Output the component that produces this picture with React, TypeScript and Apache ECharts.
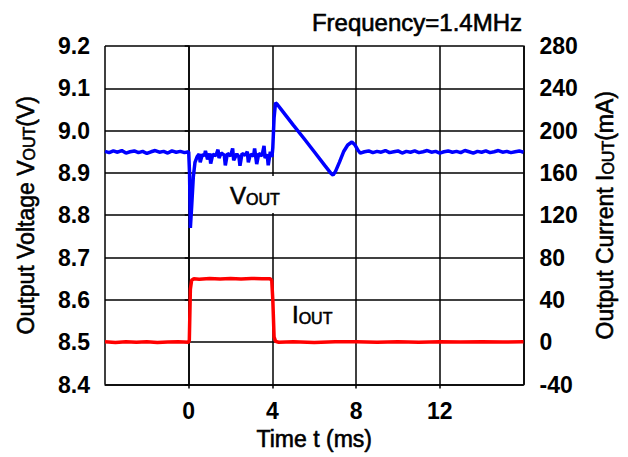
import React, { useEffect, useRef } from "react";
import * as echarts from "echarts";

const FONT = '"Liberation Sans", Arial, Helvetica, sans-serif';

// Time axis (ms)
const timeMin = -4;
const timeMax = 16;
const timeStep = 4;

// Left axis: output voltage (V)
const voltMin = 8.4;
const voltMax = 9.2;
const voltStep = 0.1;

// Right axis: output current (mA)
const currMin = -40;
const currMax = 280;
const currStep = 40;

// VOUT before the load step: [time ms, volts]
const vBefore: [number, number][] = [
  [-4.0, 8.951], [-3.8, 8.948], [-3.6, 8.952], [-3.4, 8.949], [-3.2, 8.953],
  [-3.0, 8.947], [-2.8, 8.950], [-2.6, 8.952], [-2.4, 8.948], [-2.2, 8.951],
  [-2.0, 8.946], [-1.8, 8.950], [-1.6, 8.953], [-1.4, 8.949], [-1.2, 8.951],
  [-1.0, 8.947], [-0.8, 8.952], [-0.6, 8.949], [-0.4, 8.951], [-0.2, 8.948],
  [0.0, 8.950],
];

// VOUT during the load pulse (dip + ripple)
const vPulse: [number, number][] = [
  [0.04, 8.90], [0.08, 8.77], [0.14, 8.82], [0.22, 8.89], [0.30, 8.925],
  [0.4, 8.938], [0.5, 8.945], [0.55, 8.925], [0.65, 8.944], [0.75, 8.940],
  [0.8, 8.952], [0.9, 8.932], [1.0, 8.946], [1.05, 8.922], [1.15, 8.944],
  [1.3, 8.941], [1.4, 8.955], [1.45, 8.935], [1.55, 8.947], [1.7, 8.942],
  [1.75, 8.918], [1.85, 8.946], [2.0, 8.940], [2.1, 8.958], [2.15, 8.930],
  [2.3, 8.945], [2.4, 8.938], [2.45, 8.917], [2.55, 8.946], [2.7, 8.942],
  [2.8, 8.950], [2.85, 8.925], [2.95, 8.944], [3.1, 8.940], [3.15, 8.958],
  [3.25, 8.921], [3.35, 8.946], [3.5, 8.940], [3.6, 8.964], [3.65, 8.935],
  [3.75, 8.944], [3.8, 8.918], [3.9, 8.950], [3.98, 8.938],
];

// VOUT overshoot and recovery after load release
const vRelease: [number, number][] = [
  [4.02, 8.96], [4.08, 9.03], [4.15, 9.066], [4.22, 9.063], [4.5, 9.045],
  [5.0, 9.013], [5.5, 8.982], [6.0, 8.950], [6.5, 8.918], [6.8, 8.899],
  [6.9, 8.895], [7.0, 8.902], [7.2, 8.925], [7.4, 8.950], [7.6, 8.966],
  [7.8, 8.973], [7.95, 8.966], [8.1, 8.953],
];

// VOUT steady state afterwards
const vAfter: [number, number][] = [
  [8.2, 8.947], [8.4, 8.950], [8.6, 8.952], [8.8, 8.948], [9.0, 8.951],
  [9.2, 8.949], [9.4, 8.953], [9.6, 8.948], [9.8, 8.950], [10.0, 8.952],
  [10.2, 8.947], [10.4, 8.951], [10.6, 8.949], [10.8, 8.952], [11.0, 8.948],
  [11.2, 8.950], [11.4, 8.953], [11.6, 8.949], [11.8, 8.951], [12.0, 8.947],
  [12.2, 8.950], [12.4, 8.952], [12.6, 8.949], [12.8, 8.951], [13.0, 8.948],
  [13.2, 8.953], [13.4, 8.950], [13.6, 8.947], [13.8, 8.951], [14.0, 8.949],
  [14.2, 8.952], [14.4, 8.948], [14.6, 8.950], [14.8, 8.953], [15.0, 8.949],
  [15.2, 8.951], [15.4, 8.948], [15.6, 8.950], [15.8, 8.952], [16.0, 8.949],
];

// IOUT load current: [time ms, mA]
const iOut: [number, number][] = [
  [-4, 0.3], [-3.5, -0.2], [-3, 0.4], [-2.5, 0], [-2, 0.3], [-1.5, -0.3],
  [-1, 0.2], [-0.5, 0.4], [0, 0], [0.03, 2], [0.08, 50], [0.14, 58.5],
  [0.25, 60], [0.5, 59.6], [1, 60.3], [1.5, 59.8], [2, 60.2], [2.5, 59.7],
  [3, 60.3], [3.5, 59.9], [3.9, 60], [3.97, 58], [4.02, 40], [4.08, 5],
  [4.15, 0.8], [4.3, 0], [5, 0.4], [6, -0.2], [7, 0.3], [8, 0.5], [9, 0],
  [10, 0.3], [11, -0.1], [12, 0.4], [13, 0.2], [14, 0.5], [15, 0.1], [16, 0.3],
];

const titleText = "Frequency=1.4MHz";

export default function App() {
  const ref = useRef<HTMLDivElement>(null);

  useEffect(() => {
    if (!ref.current) return;
    const chart = echarts.init(ref.current, undefined, { renderer: "svg" });
    const black = "#000";
    const heavy = { textBorderColor: black, textBorderWidth: 0.6 };
    const nameRich = {
      n: { fontSize: 23, fontFamily: FONT, color: black, verticalAlign: "bottom", ...heavy },
      s: { fontSize: 16, fontFamily: FONT, color: black, verticalAlign: "bottom", ...heavy },
    };
    const heavyG = { stroke: black, lineWidth: 0.6 };
    const labelRich = {
      a: { fontSize: 24, fontFamily: FONT, fill: black, verticalAlign: "bottom", ...heavyG },
      b: { fontSize: 16, fontFamily: FONT, fill: black, verticalAlign: "bottom", ...heavyG },
    };
    const tickLabel = {
      fontSize: 23,
      fontWeight: "bold",
      fontFamily: FONT,
      color: black,
    };
    const axisLineStyle = { color: black, width: 1.5 };

    chart.setOption({
      animation: false,
      backgroundColor: "#fff",
      textStyle: { fontFamily: FONT },
      grid: { left: 105, right: 104.5, top: 46, bottom: 72.5, containLabel: false },
      xAxis: {
        type: "value",
        min: timeMin,
        max: timeMax,
        interval: timeStep,
        name: "Time t (ms)",
        nameLocation: "middle",
        nameGap: 36,
        nameTextStyle: { fontSize: 23, fontFamily: FONT, color: black, ...heavy },
        axisLine: { onZero: false, lineStyle: axisLineStyle },
        axisTick: { show: true, length: 4, lineStyle: axisLineStyle },
        axisLabel: { ...tickLabel, margin: 15, showMinLabel: false, showMaxLabel: false },
        splitLine: { show: true, lineStyle: { color: black, width: 1.5 } },
      },
      yAxis: [
        {
          type: "value",
          position: "left",
          min: voltMin,
          max: voltMax,
          interval: voltStep,
          name: "{n|Output Voltage V}{s|OUT}{n|(V)}",
          nameLocation: "middle",
          nameRotate: 90,
          nameGap: 68,
          nameTextStyle: { rich: nameRich },
          axisLine: { show: true, lineStyle: axisLineStyle },
          axisTick: { show: true, length: 4, lineStyle: axisLineStyle },
          axisLabel: {
            ...tickLabel,
            margin: 15,
            formatter: (v: number) => v.toFixed(1),
          },
          splitLine: { show: true, lineStyle: { color: black, width: 1.5 } },
        },
        {
          type: "value",
          position: "right",
          min: currMin,
          max: currMax,
          interval: currStep,
          name: "{n|Output Current I}{s|OUT}{n|(mA)}",
          nameLocation: "middle",
          nameRotate: 90,
          nameGap: 70,
          nameTextStyle: { rich: nameRich },
          axisLine: { show: true, lineStyle: axisLineStyle },
          axisTick: { show: false },
          axisLabel: { ...tickLabel, margin: 16 },
          splitLine: { show: false },
        },
      ],
      graphic: [
        {
          type: "text",
          x: 522,
          y: 22,
          style: {
            text: titleText,
            fontSize: 24,
            fontFamily: FONT,
            fill: black,
            stroke: black,
            lineWidth: 0.6,
            align: "right",
            verticalAlign: "middle",
          },
        },
        {
          type: "rect",
          z: 1,
          shape: { x: 222, y: 176, width: 66, height: 37 },
          style: { fill: "#fff" },
        },
        {
          type: "text",
          z: 2,
          x: 230,
          y: 195,
          style: {
            text: "{a|V}{b|OUT}",
            rich: labelRich,
            align: "left",
            verticalAlign: "middle",
          },
        },
        {
          type: "rect",
          z: 1,
          shape: { x: 283, y: 302, width: 55, height: 37 },
          style: { fill: "#fff" },
        },
        {
          type: "text",
          z: 2,
          x: 292,
          y: 314,
          style: {
            text: "{a|I}{b|OUT}",
            rich: labelRich,
            align: "left",
            verticalAlign: "middle",
          },
        },
      ],
      series: [
        {
          name: "VOUT",
          type: "line",
          yAxisIndex: 0,
          z: 4,
          showSymbol: false,
          symbol: "none",
          data: [...vBefore, ...vPulse, ...vRelease, ...vAfter],
          lineStyle: { color: "#0000ff", width: 3.5 },
        },
        {
          name: "IOUT",
          type: "line",
          yAxisIndex: 1,
          z: 4,
          showSymbol: false,
          symbol: "none",
          data: iOut,
          lineStyle: { color: "#ff0000", width: 3.5 },
        },
      ],
    });
    return () => chart.dispose();
  }, []);

  return <div ref={ref} style={{ width: 628, height: 457, position: "absolute", left: 0, top: 0 }} />;
}
